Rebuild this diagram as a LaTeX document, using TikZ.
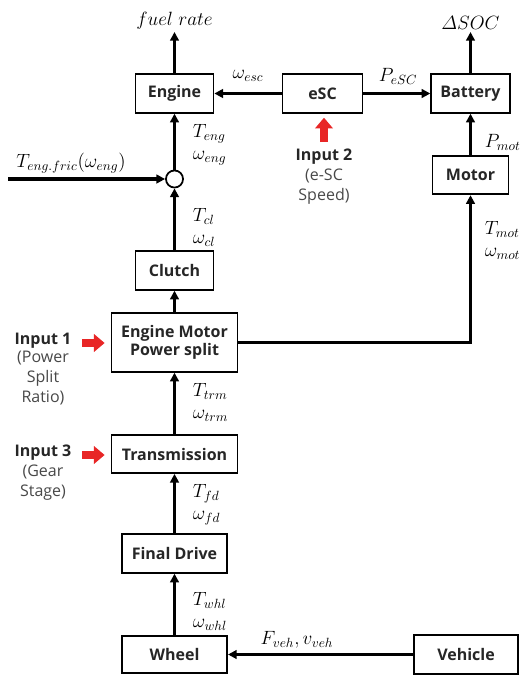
\documentclass[tikz,border=0pt]{standalone}
\usepackage{amsmath}
\usepackage[no-math]{fontspec}
\setmainfont{Open Sans}
\usetikzlibrary{arrows.meta}
\definecolor{inred}{RGB}{232,38,38}
\definecolor{subgray}{RGB}{72,72,72}
\begin{document}
\begin{tikzpicture}[x=0.75pt,y=-0.75pt,>={Triangle[length=6.5pt,width=6.5pt]},line width=2.3pt]
\tikzstyle{b}=[draw,line width=1.3pt,inner sep=0pt,minimum height=29pt,font=\fontsize{12}{14}\selectfont\bfseries,text=black!85]
\tikzstyle{lab}=[inner sep=1pt,font=\fontsize{14}{16.5}\selectfont]
\tikzstyle{inp}=[inner sep=0pt,text=black!85,font=\fontsize{12}{14}\selectfont\bfseries]
\tikzstyle{sub}=[inner sep=0pt,align=center,text=subgray,font=\fontsize{12}{15}\selectfont]
\tikzstyle{redarr}=[inred,line width=5.5pt,-{Triangle[length=8pt,width=13pt]}]
\useasboundingbox (0,0) rectangle (521,675);
% blocks
\node[b,minimum width=58.5pt] (eng) at (174.5,93.5) {Engine};
\node[b,minimum width=60pt] (esc) at (322.5,93.5) {eSC};
\node[b,minimum width=59pt] (bat) at (470.5,93.5) {Battery};
\node[b,minimum width=57pt] (mot) at (470.5,175) {Motor};
\node[draw,circle,line width=1.3pt,minimum size=12.8pt,inner sep=0pt] (sum) at (174.5,179) {};
\node[b,minimum width=58.5pt] (clu) at (174.5,270.5) {Clutch};
\node[b,minimum width=94.5pt,minimum height=44pt,align=center] (split) at (174.5,342.5) {Engine Motor\\Power split};
\node[b,minimum width=94.5pt,minimum height=28.5pt] (trans) at (174.5,454) {Transmission};
\node[b,minimum width=79pt] (fd) at (174.5,553.5) {Final Drive};
\node[b,minimum width=79pt,minimum height=28pt] (whl) at (174.5,654.5) {Wheel};
\node[b,minimum width=78pt] (veh) at (466,654.5) {Vehicle};
% outputs
\node[lab,anchor=south] (fuel) at (174.5,32) {$fuel\;rate$};
\node[lab,anchor=south] (dsoc) at (470.5,32) {$\varDelta SOC$};
\draw[->] (eng) -- (fuel);
\draw[->] (bat) -- (dsoc);
% signal flow
\draw[->] (esc) -- (eng);
\draw[->] (esc) -- (bat);
\draw[->] (mot) -- (bat);
\draw[->] (sum) -- (eng);
\draw[->] (clu) -- (sum);
\draw[->] (split) -- (clu);
\draw[->] (trans) -- (split);
\draw[->] (fd) -- (trans);
\draw[->] (whl) -- (fd);
\draw[->] (veh) -- (whl);
\draw[->] (split.east) -| (mot.south);
\coordinate (fric) at (8,179);
\draw[->] (fric) -- (sum.west);
% labels
\node[lab] (lesc) at (248,76) {$\omega_{esc}$};
\node[lab] (lpesc) at (398,76) {$P_{eSC}$};
\node[lab,anchor=west] (lpmot) at (482,142) {$P_{mot}$};
\node[lab] (lfric) at (71,163) {$T_{eng.fric}(\omega_{eng})$};
\node[lab] (lveh) at (297,640) {$F_{veh},v_{veh}$};
\foreach \n/\x/\y in {eng/190/145,cl/190/227,trm/190/402,fd/190/505,whl/190/611,mot/482/240}
  \node[lab,anchor=west,align=left] (l\n) at (\x,\y) {$T_{\n}$\\$\omega_{\n}$};
% control inputs
\node[inp] (in1) at (43,341) {Input 1};
\node[sub,anchor=north] (in1t) at (43,350) {(Power\\Split\\Ratio)};
\node[inp] (in2) at (324,157) {Input 2};
\node[sub,anchor=north] (in2t) at (324,167) {(e-SC\\Speed)};
\node[inp] (in3) at (43,453) {Input 3};
\node[sub,anchor=north] (in3t) at (43,463) {(Gear\\Stage)};
\coordinate (r1) at (82,343);
\coordinate (r2) at (324,142);
\coordinate (r3) at (82,455);
\draw[redarr,shorten >=4.5pt] (r1) -- (r1 -| split.west);
\draw[redarr,shorten >=3pt] (r2) -- (r2 |- esc.south);
\draw[redarr,shorten >=4.5pt] (r3) -- (r3 -| trans.west);
\end{tikzpicture}
\end{document}
